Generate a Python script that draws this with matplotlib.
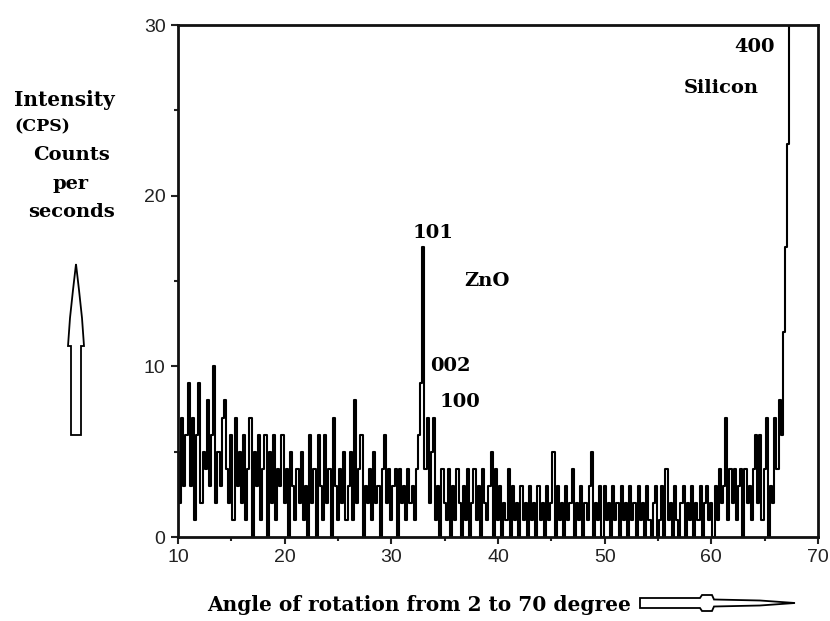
import numpy as np
import matplotlib
matplotlib.use("Agg")
import matplotlib.pyplot as plt
from matplotlib.patches import Polygon
import matplotlib.transforms as mtransforms
from matplotlib.ticker import MultipleLocator

# ---- data: counts at 0.2 degree steps from 10.0 ----
angle_start = 10.0
angle_step = 0.2
counts = [
    5, 2, 7, 3, 6, 9, 3, 7, 1, 6,      # 10.0-11.8
    9, 2, 5, 4, 8, 3, 6, 10, 2, 5,     # 12.0-13.8
    3, 7, 8, 4, 2, 6, 1, 7, 3, 5,      # 14.0-15.8
    2, 6, 1, 4, 7, 0, 5, 3, 6, 1,      # 16.0-17.8
    4, 6, 0, 5, 2, 6, 1, 4, 3, 6,      # 18.0-19.8
    2, 4, 0, 5, 3, 1, 4, 2, 5, 1,      # 20.0-21.8
    3, 0, 6, 2, 4, 0, 6, 3, 1, 6,      # 22.0-23.8
    2, 4, 0, 7, 3, 1, 4, 2, 5, 1,      # 24.0-25.8
    3, 5, 1, 8, 2, 4, 6, 0, 3, 2,      # 26.0-27.8
    4, 1, 5, 2, 3, 0, 4, 6, 2, 4,      # 28.0-29.8
    1, 3, 4, 0, 4, 2, 3, 1, 4, 2,      # 30.0-31.8
    3, 1, 4, 6, 9, 17, 4, 7, 2, 5,     # 32.0-33.8
    7, 1, 3, 0, 4, 2, 1, 4, 0, 3,      # 34.0-35.8
    1, 4, 2, 0, 3, 1, 4, 0, 2, 4,      # 36.0-37.8
    1, 3, 0, 4, 2, 1, 3, 5, 0, 4,      # 38.0-39.8
    1, 3, 0, 2, 1, 4, 0, 3, 1, 2,      # 40.0-41.8
    0, 3, 1, 2, 0, 3, 1, 2, 0, 3,      # 42.0-43.8
    1, 2, 0, 3, 1, 2, 5, 0, 3, 1,      # 44.0-45.8
    2, 0, 3, 1, 2, 4, 0, 2, 1, 3,      # 46.0-47.8
    0, 2, 1, 3, 5, 0, 2, 1, 3, 0,      # 48.0-49.8
    3, 1, 2, 0, 3, 1, 2, 0, 3, 1,      # 50.0-51.8
    2, 0, 3, 1, 2, 0, 3, 1, 2, 0,      # 52.0-53.8
    3, 1, 0, 2, 3, 0, 1, 3, 0, 4,      # 54.0-55.8
    1, 2, 0, 3, 1, 0, 2, 3, 0, 2,      # 56.0-57.8
    1, 3, 0, 2, 1, 3, 0, 2, 3, 1,      # 58.0-59.8
    2, 0, 3, 1, 4, 2, 3, 7, 1, 4,      # 60.0-61.8
    2, 4, 1, 3, 4, 0, 4, 2, 3, 1,      # 62.0-63.8
    4, 6, 2, 6, 1, 4, 7, 0, 3, 2,      # 64.0-65.8
    7, 4, 8, 6, 12, 17, 23, 40,        # 66.0-67.4
]
angles = angle_start + angle_step * np.arange(len(counts))

x_ticks = [10, 20, 30, 40, 50, 60, 70]
y_ticks = [0, 10, 20, 30]

peak_labels = [("101", 33.9, 17.8), ("ZnO", 39.0, 15.0), ("002", 35.5, 10.0),
               ("100", 36.4, 7.9), ("400", 64.0, 28.7), ("Silicon", 60.9, 26.3)]

# ---- figure ----
W, H = 830, 621
fig = plt.figure(figsize=(W / 100, H / 100), dpi=100)
ax = fig.add_axes([178 / W, 1 - 537 / H, (818 - 178) / W, (537 - 25) / H])

ax.plot(angles, counts, drawstyle="steps-mid", color="black", lw=1.5)
ax.set_xlim(10, 70)
ax.set_ylim(0, 30)
ax.set_xticks(x_ticks)
ax.set_yticks(y_ticks)
ax.xaxis.set_minor_locator(MultipleLocator(5))
ax.yaxis.set_minor_locator(MultipleLocator(5))
ax.tick_params(which="both", direction="out", top=False, right=False,
               width=1.5, colors="#222222")
ax.tick_params(which="major", length=5, labelsize=14, pad=4)
ax.tick_params(which="minor", length=3)
for lab in ax.get_xticklabels() + ax.get_yticklabels():
    lab.set_family("Liberation Sans")
for sp in ax.spines.values():
    sp.set_linewidth(2)
    sp.set_color("#111111")

serif = dict(family="DejaVu Serif", weight="bold", color="black")
for txt, xx, yy in peak_labels:
    ax.text(xx, yy, txt, ha="center", va="center", fontsize=14, **serif)

def px(x, y):
    return (x / W, 1 - y / H)

fig.text(*px(14, 100), "Intensity", ha="left", va="center", fontsize=14.5, **serif)
fig.text(*px(14, 127), "(CPS)", ha="left", va="center", fontsize=12.5, **serif)
fig.text(*px(71, 155), "Counts", ha="center", va="center", fontsize=14, **serif)
fig.text(*px(71, 184), "per", ha="center", va="center", fontsize=14, **serif)
fig.text(*px(71, 212), "seconds", ha="center", va="center", fontsize=14, **serif)
fig.text(*px(419, 605), "Angle of rotation from 2 to 70 degree", ha="center",
         va="center", fontsize=14.5, **serif)

# hollow arrows, drawn in pixel coordinates (origin top-left)
pix = mtransforms.Affine2D().scale(1 / W, -1 / H).translate(0, 1) + fig.transFigure
up = [(76, 264), (79, 290), (82, 318), (84, 346), (81, 346), (81, 435),
      (71, 435), (71, 346), (68, 346), (70, 318), (73, 290)]
fig.patches.append(Polygon(up, closed=True, fc="white", ec="black", lw=1.3,
                           transform=pix, figure=fig))
right = [(640, 598), (700, 598), (702, 595), (712, 595), (714, 599.5),
         (760, 600.5), (795, 603), (760, 605.5), (714, 606.5), (712, 611),
         (702, 611), (700, 608), (640, 608)]
fig.patches.append(Polygon(right, closed=True, fc="white", ec="black", lw=1.3,
                           transform=pix, figure=fig))

fig.savefig("out.png", dpi=100, facecolor="white")
